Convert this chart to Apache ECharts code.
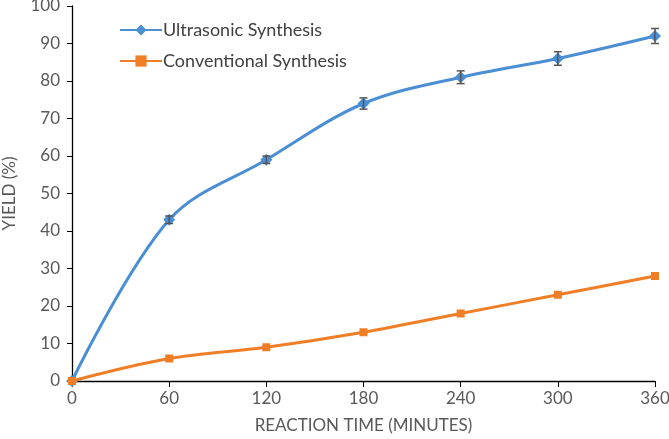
<!DOCTYPE html>
<html><head><meta charset="utf-8">
<script src="https://cdn.jsdelivr.net/npm/echarts@6/dist/echarts.min.js"></script>
<style>html,body{margin:0;padding:0;background:#fff}#c{width:669px;height:439px}</style>
</head><body><div id="c"></div>
<script>
const times = [0, 60, 120, 180, 240, 300, 360];
const ultrasonic = [0, 43, 59, 74, 81, 86, 92];
const ultrasonicErr = [0, 1, 1, 1.5, 1.7, 1.8, 2];
const conventional = [0, 6, 9, 13, 18, 23, 28];
const conventionalErr = [0, 0, 0, 0, 0, 0, 0];
const xTicks = [0, 60, 120, 180, 240, 300, 360];
const yTicks = [0, 10, 20, 30, 40, 50, 60, 70, 80, 90, 100];

const blue = '#4A8FD3', orange = '#F07E26';
const font = 'Lato, "Open Sans", sans-serif';

function errData(vals, errs) {
  return times.map((t, i) => [t, vals[i] - errs[i], vals[i] + errs[i]]);
}
function errRender(params, api) {
  if (api.value(2) - api.value(1) <= 0) return null;
  const x = api.value(0);
  const lo = api.coord([x, api.value(1)]);
  const hi = api.coord([x, api.value(2)]);
  const w = 4;
  const style = { stroke: '#555', lineWidth: 1.5 };
  return { type: 'group', children: [
    { type: 'line', shape: { x1: lo[0], y1: lo[1], x2: hi[0], y2: hi[1] }, style },
    { type: 'line', shape: { x1: lo[0]-w, y1: lo[1], x2: lo[0]+w, y2: lo[1] }, style },
    { type: 'line', shape: { x1: hi[0]-w, y1: hi[1], x2: hi[0]+w, y2: hi[1] }, style }
  ]};
}

const chart = echarts.init(document.getElementById('c'));
chart.setOption({
  animation: false,
  grid: { left: 72, right: 14, top: 6, bottom: 58, containLabel: false, outerBoundsMode: 'none' },
  legend: {
    orient: 'vertical', left: 114, top: 16, itemGap: 13,
    itemWidth: 42, itemHeight: 14,
    textStyle: { fontFamily: font, fontSize: 18, color: '#404040', padding: [0,0,0,-4] },
    data: ['Ultrasonic Synthesis', 'Conventional Synthesis']
  },
  xAxis: {
    type: 'value', min: 0, max: 360, interval: 60,
    name: 'REACTION TIME (MINUTES)', nameLocation: 'middle', nameGap: 36,
    nameTextStyle: { fontFamily: font, fontSize: 17, color: '#595959' },
    axisLine: { lineStyle: { color: '#000', width: 1.3 } },
    axisTick: { show: true, length: 6, lineStyle: { color: '#000' } },
    axisLabel: { fontFamily: font, fontSize: 17, color: '#595959', margin: 9,
      formatter: v => xTicks.includes(v) ? String(v) : '' },
    splitLine: { show: false }
  },
  yAxis: {
    type: 'value', min: 0, max: 100, interval: 10,
    name: 'YIELD (%)', nameLocation: 'middle', nameGap: 54, nameRotate: 90,
    nameTextStyle: { fontFamily: font, fontSize: 17, color: '#595959' },
    axisLine: { show: true, lineStyle: { color: '#000', width: 1.3 } },
    axisTick: { show: true, length: 5, lineStyle: { color: '#000' } },
    axisLabel: { fontFamily: font, fontSize: 17, color: '#595959', margin: 12,
      formatter: v => yTicks.includes(v) ? String(v) : '' },
    splitLine: { show: false }
  },
  series: [
    { name: 'Ultrasonic Synthesis', type: 'line', smooth: 0.35,
      data: times.map((t, i) => [t, ultrasonic[i]]),
      symbol: 'diamond', symbolSize: 12,
      lineStyle: { color: blue, width: 3 }, itemStyle: { color: blue }, z: 3 },
    { name: 'ultraErr', type: 'custom', renderItem: errRender,
      data: errData(ultrasonic, ultrasonicErr), z: 4, encode: { x: 0, y: [1, 2] } },
    { name: 'Conventional Synthesis', type: 'line', smooth: 0.35,
      data: times.map((t, i) => [t, conventional[i]]),
      symbol: 'rect', symbolSize: 8,
      lineStyle: { color: orange, width: 3 }, itemStyle: { color: orange }, z: 5 },
    { name: 'convErr', type: 'custom', renderItem: errRender,
      data: errData(conventional, conventionalErr), z: 6, encode: { x: 0, y: [1, 2] } }
  ]
});
</script></body></html>
